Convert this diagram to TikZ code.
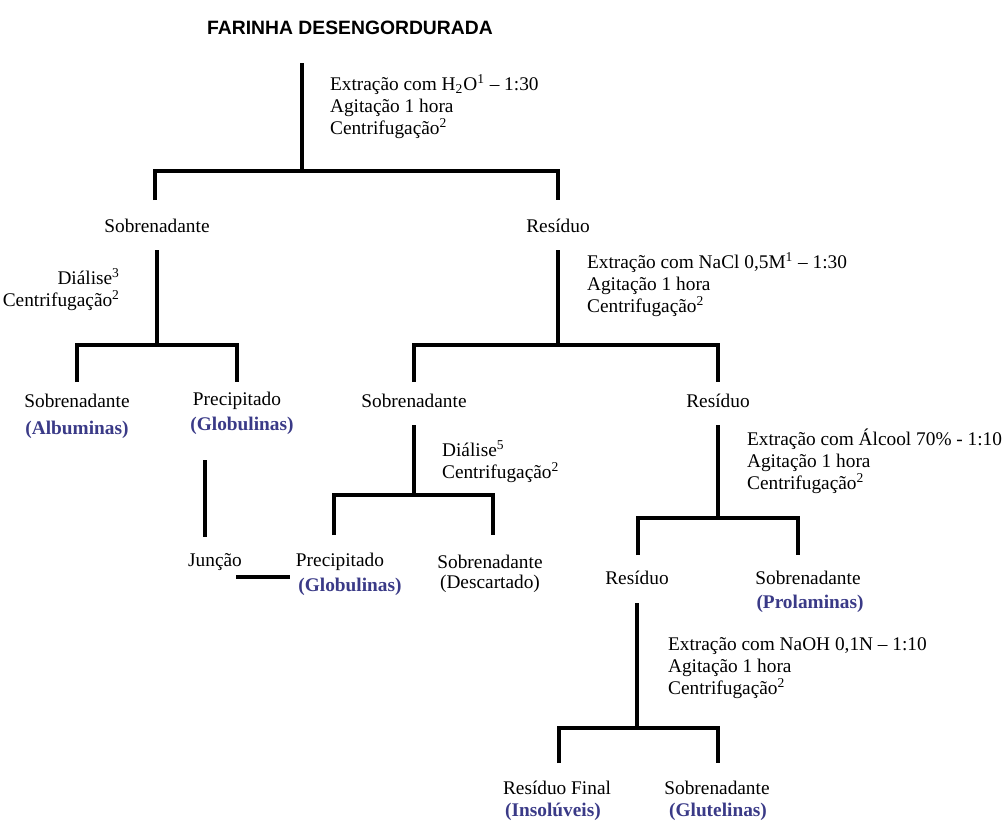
\documentclass[tikz,border=0pt]{standalone}
\usepackage{fontspec}
\setmainfont{Liberation Serif}
\newfontfamily\titlefont{Liberation Sans}
\usepackage{xcolor}
\definecolor{protblue}{RGB}{58,58,135}

\begin{document}
\begin{tikzpicture}[x=0.02cm, y=-0.02cm]
	
	\useasboundingbox (0,0) rectangle (1007,823);
	
	\tikzstyle{every node}=[inner sep=1pt, font=\fontsize{11}{12.5}\selectfont]
	\tikzstyle{fraction}=[text=protblue, font=\fontsize{11}{12.5}\selectfont\bfseries]
	\tikzstyle{stepnote}=[anchor=west, align=left]
	\tikzstyle{branch}=[line width=2pt]
	
	% titulo
	\node (farinha) at (350,28) {\titlefont\bfseries FARINHA DESENGORDURADA};
	
	% extracao com agua
	\node[stepnote] (ext1) at (328,107) {Extração com H\textsubscript{2}O\textsuperscript{1} -- 1:30\\Agitação 1 hora\\Centrifugação\textsuperscript{2}};
	\coordinate (t1) at (302,63);
	\coordinate (s1) at (302,171);
	\coordinate (l1) at (155,200);
	\coordinate (r1) at (558,200);
	\draw[branch] (t1) -- (s1);
	\draw[branch] (l1) |- (s1) -| (r1);
	
	\node (sob1) at (157,226) {Sobrenadante};
	\node (res1) at (558,226) {Resíduo};
	
	% dialise do sobrenadante
	\node[anchor=east, align=right] (dial1) at (122,290) {Diálise\textsuperscript{3}\\Centrifugação\textsuperscript{2}};
	\coordinate (t2) at (157,250);
	\coordinate (s2) at (157,345);
	\coordinate (l2) at (77,382);
	\coordinate (r2) at (237,382);
	\draw[branch] (t2) -- (s2);
	\draw[branch] (l2) |- (s2) -| (r2);
	
	\node (sob2) at (77,401) {Sobrenadante};
	\node[fraction] (alb) at (77,430) {(Albuminas)};
	\node (prec1) at (237,401) {Precipitado};
	\node[fraction] (glob1) at (242,426) {(Globulinas)};
	
	% extracao com NaCl
	\node[stepnote] (ext2) at (585,285) {Extração com NaCl 0,5M\textsuperscript{1} -- 1:30\\Agitação 1 hora\\Centrifugação\textsuperscript{2}};
	\coordinate (t3) at (558,250);
	\coordinate (s3) at (558,345);
	\coordinate (l3) at (414,382);
	\coordinate (r3) at (718,382);
	\draw[branch] (t3) -- (s3);
	\draw[branch] (l3) |- (s3) -| (r3);
	
	\node (sob3) at (414,401) {Sobrenadante};
	\node (res2) at (718,401) {Resíduo};
	
	% dialise do sobrenadante salino
	\node[stepnote] (dial2) at (440,462) {Diálise\textsuperscript{5}\\Centrifugação\textsuperscript{2}};
	\coordinate (t4) at (414,425);
	\coordinate (s4) at (414,495);
	\coordinate (l4) at (334,535);
	\coordinate (r4) at (493,535);
	\draw[branch] (t4) -- (s4);
	\draw[branch] (l4) |- (s4) -| (r4);
	
	\node (prec2) at (340,562) {Precipitado};
	\node[fraction] (glob2) at (350,587) {(Globulinas)};
	\node (sob4) at (490,562) {Sobrenadante};
	\node (desc) at (490,584) {(Descartado)};
	
	% juncao das globulinas
	\node (junc) at (215,562) {Junção};
	\coordinate (g1) at (205,460);
	\coordinate (g2) at (205,537);
	\draw[branch] (g1) -- (g2);
	\coordinate (j1) at (236,577);
	\coordinate (j2) at (290,577);
	\draw[branch] (j1) -- (j2);
	
	% extracao com alcool
	\node[stepnote] (ext3) at (745,461) {Extração com Álcool 70\% - 1:10\\Agitação 1 hora\\Centrifugação\textsuperscript{2}};
	\coordinate (t5) at (718,425);
	\coordinate (s5) at (718,518);
	\coordinate (l5) at (638,555);
	\coordinate (r5) at (798,555);
	\draw[branch] (t5) -- (s5);
	\draw[branch] (l5) |- (s5) -| (r5);
	
	\node (res3) at (637,578) {Resíduo};
	\node (sob5) at (808,578) {Sobrenadante};
	\node[fraction] (prol) at (810,604) {(Prolaminas)};
	
	% extracao com NaOH
	\node[stepnote] (ext4) at (666,668) {Extração com NaOH 0,1N -- 1:10\\Agitação 1 hora\\Centrifugação\textsuperscript{2}};
	\coordinate (t6) at (637,603);
	\coordinate (s6) at (637,728);
	\coordinate (l6) at (559,763);
	\coordinate (r6) at (718,763);
	\draw[branch] (t6) -- (s6);
	\draw[branch] (l6) |- (s6) -| (r6);
	
	\node (resf) at (557,788) {Resíduo Final};
	\node[fraction] (ins) at (553,812) {(Insolúveis)};
	\node (sob6) at (717,788) {Sobrenadante};
	\node[fraction] (glut) at (718,812) {(Glutelinas)};
	
\end{tikzpicture}
\end{document}
